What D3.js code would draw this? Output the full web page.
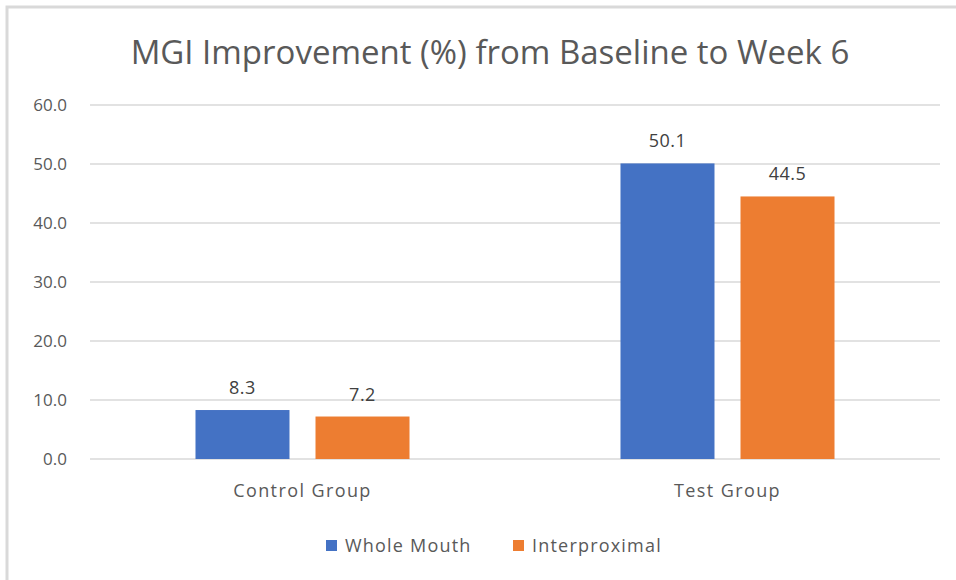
<!DOCTYPE html>
<html><head><meta charset="utf-8">
<script src="https://cdn.jsdelivr.net/npm/d3@7"></script>
<style>body{margin:0;background:#fff}svg{display:block}</style>
</head><body>
<svg id="c" width="956" height="580"></svg>
<script>
const categories = ["Control Group", "Test Group"];
const seriesNames = ["Whole Mouth", "Interproximal"];
const wholeMouth = [8.3, 50.1];
const interproximal = [7.2, 44.5];
const yTicks = [0, 10, 20, 30, 40, 50, 60];
const colors = ["#4472C4", "#ED7D31"];
const title = "MGI Improvement (%) from Baseline to Week 6";

const svg = d3.select("#c");
const font = "'Open Sans', sans-serif";
// border
svg.append("rect").attr("x", 7).attr("y", 7).attr("width", 1000).attr("height", 1000)
  .attr("fill", "#fff").attr("stroke", "#d9d9d9").attr("stroke-width", 3);

const x0 = d3.scaleBand().domain(categories).range([90, 940]);
const x1 = d3.scaleBand().domain(seriesNames).range([0, x0.bandwidth()]).paddingInner(0.2167).paddingOuter(0.879);
const y = d3.scaleLinear().domain([0, 60]).range([459, 105]);

// gridlines
svg.append("g").selectAll("line").data(yTicks).join("line")
  .attr("x1", 90).attr("x2", 940).attr("y1", d => y(d)).attr("y2", d => y(d))
  .attr("stroke", "#d9d9d9").attr("stroke-width", 1.5);

const yAxis = d3.axisLeft(y).tickValues(yTicks).tickFormat(d3.format(".1f")).tickSize(0).tickPadding(0);
const ga = svg.append("g").attr("transform", "translate(67,0)").call(yAxis);
ga.select(".domain").remove();
ga.selectAll("text").attr("font-family", font).attr("font-size", 17).attr("fill", "#595959");

const data = categories.map((c, i) => ({cat: c, vals: [wholeMouth[i], interproximal[i]]}));
const groups = svg.append("g").selectAll("g").data(data).join("g")
  .attr("transform", d => `translate(${x0(d.cat)},0)`);
groups.selectAll("rect").data(d => d.vals.map((v, j) => ({s: seriesNames[j], v, j}))).join("rect")
  .attr("x", d => x1(d.s)).attr("width", x1.bandwidth())
  .attr("y", d => y(d.v)).attr("height", d => y(0) - y(d.v))
  .attr("fill", d => colors[d.j]);
groups.selectAll("text").data(d => d.vals.map((v, j) => ({s: seriesNames[j], v, j}))).join("text")
  .attr("x", d => x1(d.s) + x1.bandwidth() / 2).attr("y", d => y(d.v) - 16)
  .attr("text-anchor", "middle").attr("font-family", font).attr("font-size", 18).attr("fill", "#404040")
  .attr("letter-spacing", 0.5)
  .text(d => d3.format(".1f")(d.v));

// x axis labels
const xAxis = d3.axisBottom(x0).tickSize(0).tickPadding(0);
const gx = svg.append("g").attr("transform", "translate(0,484)").call(xAxis);
gx.select(".domain").remove();
gx.selectAll("text").attr("font-family", font).attr("font-size", 18).attr("fill", "#595959")
  .attr("letter-spacing", 1.4);

// title
svg.append("text").attr("x", 490).attr("y", 64).attr("text-anchor", "middle")
  .attr("font-family", font).attr("font-size", 33).attr("fill", "#595959").text(title);

// legend
const legX = [326, 513];
const lg = svg.append("g").selectAll("g").data(seriesNames).join("g")
  .attr("transform", (d, i) => `translate(${legX[i]},540)`);
lg.append("rect").attr("width", 11).attr("height", 11).attr("fill", (d, i) => colors[i]);
lg.append("text").attr("x", 19).attr("y", 12).attr("font-family", font).attr("font-size", 18)
  .attr("letter-spacing", 1.2).attr("fill", "#595959").text(d => d);
</script>
</body></html>
